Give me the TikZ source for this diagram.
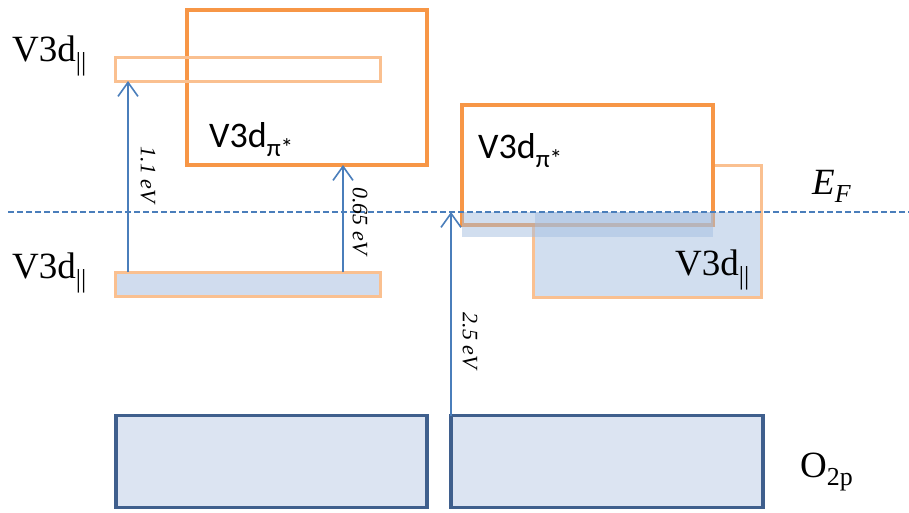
\documentclass[tikz,border=0pt]{standalone}
\usepackage{fontspec}
\setmainfont{Liberation Serif}
\newfontfamily\calfont{Carlito}
\usetikzlibrary{arrows.meta}
\definecolor{orA}{HTML}{F79646}
\definecolor{orB}{HTML}{FAC090}
\definecolor{bluefill}{HTML}{D0DCEE}
\definecolor{bluetr}{HTML}{A4BEE0}
\definecolor{ofill}{HTML}{DCE4F2}
\definecolor{odraw}{HTML}{3F5F8D}
\definecolor{arrc}{HTML}{4A7EBB}
\tikzset{
  box/.style={draw, minimum width=#1, inner sep=0pt, outer sep=0pt},
  lbl/.style={anchor=base west, inner sep=0pt, font=\fontsize{37}{37}\selectfont},
  cal/.style={anchor=base west, inner sep=0pt, font=\calfont\fontsize{36}{36}\selectfont},
  evl/.style={rotate=-90, inner sep=0pt, font=\itshape\fontsize{22}{22}\selectfont},
  arr/.style={draw=arrc, line width=1.4pt, -{Straight Barb[length=14pt,width=20pt,line width=1.6pt]}},
}
\begin{document}
\begin{tikzpicture}[x=1pt,y=-1pt]
\useasboundingbox (0,0) rectangle (909,512);
% left side
\node[box=240pt, minimum height=155pt, draw=orA, line width=3.5pt] (pl) at (307,87.5) {};
\node[box=265pt, minimum height=24pt, draw=orB, line width=3pt] (ub) at (247.5,69) {};
\node[box=265pt, minimum height=24pt, draw=orB, fill=bluefill, line width=3pt] (lb) at (247.5,284) {};
\node[lbl] (t1) at (12,61) {V3d\textsubscript{||}};
\node[lbl] (t2) at (12,278) {V3d\textsubscript{||}};
\node[cal] (t3) at (209,147) {V3d\textsubscript{π*}};
% right side
\node[box=228pt, minimum height=132pt, draw=orB, line width=3pt] (dr) at (647,231) {};
\node[box=251pt, minimum height=120pt, draw=orA, fill=white, line width=3.5pt] (pr) at (587.5,165) {};
\fill[bluetr, opacity=0.5] (534.5,212) rectangle (759.5,295.5);
\fill[bluetr, opacity=0.5] (462,212) rectangle (713,237);
\node[cal] (t4) at (478,158) {V3d\textsubscript{π*}};
\node[lbl] (t5) at (675,275) {V3d\textsubscript{||}};
% O2p
\node[box=311pt, minimum height=92pt, draw=odraw, fill=ofill, line width=3.5pt] (o1) at (271.5,461.5) {};
\node[box=312pt, minimum height=92pt, draw=odraw, fill=ofill, line width=3.5pt] (o2) at (607,461.5) {};
\node[lbl] (t6) at (800,477) {O\textsubscript{2p}};
% Fermi level
\coordinate (ef1) at (8,212);
\coordinate (ef2) at (909,212);
\draw[arrc, line width=1.2pt, dash pattern=on 6pt off 3pt] (ef1) -- (ef2);
\node[lbl] (t7) at (812,194) {\textit{E}\textsubscript{\textit{F}}};
% transitions
\coordinate (x1) at (128,0);
\coordinate (x2) at (343,0);
\coordinate (x3) at (451,0);
\draw[arr] (lb.north -| x1) -- (ub.south -| x1);
\draw[arr] (lb.north -| x2) -- (pl.south -| x2);
\draw[arr] (o2.north -| x3) -- (ef1 -| x3);
\node[evl] (e1) at (148,175) {1.1 eV};
\node[evl] (e2) at (360,221) {0.65 eV};
\node[evl] (e3) at (470,341) {2.5 eV};
\end{tikzpicture}
\end{document}
